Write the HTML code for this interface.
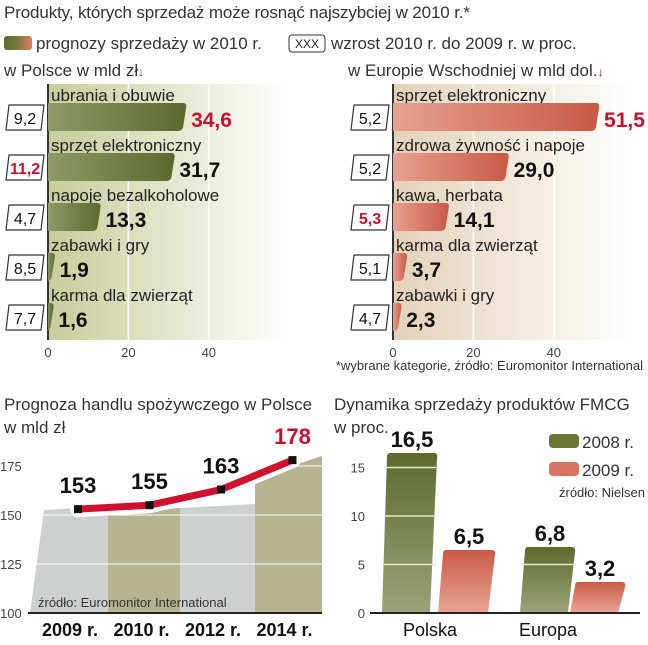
<!DOCTYPE html>
<html><head><meta charset="utf-8"><style>
body{margin:0;background:#fff;font-family:"Liberation Sans",sans-serif}
svg text{font-family:"Liberation Sans",sans-serif}
.t{font-size:17px;fill:#333}
.b{font-weight:bold;font-family:"Liberation Sans Narrow","Liberation Sans",sans-serif}
</style></head><body>
<svg id="s" width="648" height="640" viewBox="0 0 648 640">
<defs>
<linearGradient id="gbg" x1="0" x2="1"><stop offset="0" stop-color="#c9cc9a"/><stop offset="1" stop-color="#fff"/></linearGradient>
<linearGradient id="rbg" x1="0" x2="1"><stop offset="0" stop-color="#e3d2b8"/><stop offset="1" stop-color="#fff"/></linearGradient>
<linearGradient id="gb" x1="0" x2="1"><stop offset="0" stop-color="#8f9a68"/><stop offset="1" stop-color="#5a6a2c"/></linearGradient>
<linearGradient id="rb" x1="0" x2="1"><stop offset="0" stop-color="#e8a090"/><stop offset="1" stop-color="#c85a45"/></linearGradient>
<linearGradient id="gv" x1="0" y1="0" x2="0" y2="1"><stop offset="0" stop-color="#5c6b2c"/><stop offset="1" stop-color="#9aa37a"/></linearGradient>
<linearGradient id="rv" x1="0" y1="0" x2="0" y2="1"><stop offset="0" stop-color="#c95a45"/><stop offset="1" stop-color="#eaa595"/></linearGradient>
<linearGradient id="leg" x1="0" x2="1"><stop offset="0" stop-color="#5c6b2c"/><stop offset="0.5" stop-color="#7a7a40"/><stop offset="1" stop-color="#e07a66"/></linearGradient>
</defs>
<text x="4" y="18" class="t" textLength="466">Produkty, których sprzedaż może rosnąć najszybciej w 2010 r.*</text>
<rect x="4" y="36" width="28" height="14" rx="3" fill="url(#leg)"/>
<text x="36" y="49" class="t">prognozy sprzedaży w 2010 r.</text>
<rect x="289" y="35" width="36" height="17" rx="3" fill="#fff" stroke="#333"/>
<text x="307" y="48" font-size="12" text-anchor="middle" fill="#222">XXX</text>
<text x="331" y="49" class="t">wzrost 2010 r. do 2009 r. w proc.</text>
<text x="4" y="76" class="t">w Polsce w mld zł<tspan fill="#c8102e" font-size="12">↓</tspan></text>
<text x="348" y="76" class="t">w Europie Wschodniej w mld dol.<tspan fill="#c8102e" font-size="12">↓</tspan></text>
<g id="top"></g>
<text x="643" y="370" font-size="13" fill="#333" text-anchor="end">*wybrane kategorie, źródło: Euromonitor International</text>
<text x="4" y="410" class="t">Prognoza handlu spożywczego w Polsce</text>
<text x="4" y="433" class="t">w mld zł</text>
<g id="line"></g>
<text x="334" y="410" class="t">Dynamika sprzedaży produktów FMCG</text>
<text x="334" y="433" class="t">w proc.</text>
<g id="fmcg"></g>
</svg>
<script>
const NS="http://www.w3.org/2000/svg";
function mk(p,tag,a,txt){const e=document.createElementNS(NS,tag);for(const k in a)e.setAttribute(k,a[k]);if(txt!=null)e.textContent=txt;p.appendChild(e);return e;}

const plCats=["ubrania i obuwie","sprzęt elektroniczny","napoje bezalkoholowe","zabawki i gry","karma dla zwierząt"];
const plValues=[34.6,31.7,13.3,1.9,1.6];
const plGrowth=["9,2","11,2","4,7","8,5","7,7"];
const plHighlight=[1];
const euCats=["sprzęt elektroniczny","zdrowa żywność i napoje","kawa, herbata","karma dla zwierząt","zabawki i gry"];
const euValues=[51.5,29.0,14.1,3.7,2.3];
const euGrowth=["5,2","5,2","5,3","5,1","4,7"];
const euHighlight=[2];
const xTicks=[0,20,40];

function panel(name,x0,bg,bar,cats,vals,gr,hl,boxX){
  const g=document.getElementById("top");
  const sx=v=>x0+v*4.02;
  const r=mk(g,"rect",{x:x0,y:84,width:240,height:256,fill:"url(#"+bg+")"});
  
  
  xTicks.forEach(t=>{
    if(t>0){const l=mk(g,"line",{x1:sx(t),x2:sx(t),y1:84,y2:340,stroke:"#fff","stroke-width":1.5});
    
    }
    const tx=mk(g,"text",{x:sx(t),y:357,"font-size":13,fill:"#444","text-anchor":"middle"},String(t));
    
    
  });
  const ax=mk(g,"line",{x1:x0,x2:x0,y1:84,y2:340,stroke:"#333","stroke-width":2});
  
  
  cats.forEach((c,i)=>{
    const y=103+i*50;
    const ct=mk(g,"text",{x:x0+3,y:y-2,"font-size":17,fill:"#222"},c);
    
    
    const w=sx(vals[i])-x0;
    const b=mk(g,"path",{d:`M${x0},${y} H${x0+w-4} Q${x0+w},${y} ${x0+w-1},${y+5} L${x0+w-4},${y+24} Q${x0+w-5},${y+28} ${x0+w-9},${y+28} H${x0} Z`,fill:"url(#"+bar+")"});
    
    
    const vt=mk(g,"text",{x:x0+w+4,y:y+24,"font-size":21,"font-weight":"bold",fill:i===0?"#c8102e":"#111",class:"b"},vals[i].toFixed(1).replace(".",","));
    
    
    const bx=mk(g,"path",{d:`M${boxX+4},${y+2} H${boxX+39} L${boxX+36},${y+27} H${boxX+1} Z`,fill:"#fff",stroke:"#333","stroke-width":1.2,"stroke-linejoin":"round"});
    
    
    const gt=mk(g,"text",{x:boxX+20,y:y+21,"font-size":16,"text-anchor":"middle",fill:hl.includes(i)?"#c8102e":"#111","font-weight":hl.includes(i)?"bold":"normal"},gr[i]);
    
    
  });
}
panel("poland",48,"gbg","gb",plCats,plValues,plGrowth,plHighlight,5);
panel("eastern-europe",393,"rbg","rb",euCats,euValues,euGrowth,euHighlight,350);

const years=["2009 r.","2010 r.","2012 r.","2014 r."];
const sales=[153,155,163,178];
const yTicks=[100,125,150,175];
(function(){
  const g=document.getElementById("line");
  const y=v=>613-(v-100)*1.96;
  const xs=i=>78+i*71.5;
  const bandL=[30,108,180,255,322];
  const bandTop=[510,512,508,478];
  const bandC=["#c3c9c6","#a9a67e","#c3c9c6","#a9a67e"];
  years.forEach((yr,i)=>{
    const r=mk(g,"path",{d:`M${bandL[i]+(i==0?14:0)},${bandTop[i]} L${bandL[i+1]},${bandTop[i]-(i==3?22:4)} L${bandL[i+1]},613 L${bandL[i]},613 Z`,fill:bandC[i],opacity:0.85});
    
    
    const t=mk(g,"text",{x:xs(i)-8,y:636,"font-size":18,"text-anchor":"middle",fill:"#111",class:"b"},yr);
    
    
  });
  yTicks.forEach(v=>{
    if(v>100){const l=mk(g,"line",{x1:30,x2:322,y1:y(v),y2:y(v),stroke:"#fff","stroke-width":1});
    
    }
    const t=mk(g,"text",{x:0,y:y(v)+5,"font-size":13,fill:"#444"},String(v));
    
    
  });
  const ax=mk(g,"line",{x1:28,x2:322,y1:613,y2:613,stroke:"#222","stroke-width":2});
  
  
  const src=mk(g,"text",{x:38,y:607,"font-size":13,fill:"#333"},"źródło: Euromonitor International");
  
  
  const pts=sales.map((v,i)=>xs(i)+","+y(v)).join(" ");
  const halo=mk(g,"polyline",{points:pts,fill:"none",stroke:"#fff","stroke-width":16,"stroke-linejoin":"round","stroke-linecap":"round"});
  
  
  const ln=mk(g,"polyline",{points:pts,fill:"none",stroke:"#d0102e","stroke-width":7,"stroke-linejoin":"round"});
  
  
  sales.forEach((v,i)=>{
    const p=mk(g,"rect",{x:xs(i)-4,y:y(v)-4,width:8,height:8,fill:"#111"});
    
    
    const t=mk(g,"text",{x:xs(i),y:y(v)-16,"font-size":22,"font-weight":"bold","text-anchor":"middle",fill:i===3?"#c8102e":"#111",class:"b"},String(v));
    
    
  });
})();

const regions=["Polska","Europa"];
const s2008=[16.5,6.8];
const s2009=[6.5,3.2];
const fTicks=[0,5,10,15];
(function(){
  const g=document.getElementById("fmcg");
  const y=v=>613-v*9.7;
  fTicks.forEach(v=>{
    const t=mk(g,"text",{x:365,y:y(v)+5,"font-size":13,fill:"#444","text-anchor":"end"},String(v));
    
    
  });
  const gx=[386,524], rx=[442,574];
  function bar(x,w,v,fill,lab){
    const top=y(v);
    const p=mk(g,"path",{d:`M${x+4},${top} H${x+w+4} Q${x+w+8},${top} ${x+w+7},${top+5} L${x+w},613 H${x-4} L${x+1},${top+4} Q${x+1},${top} ${x+4},${top} Z`,fill:fill});
    
    
    return top;
  }
  regions.forEach((r,i)=>{
    const w1=i?44:44, w2=i?44:46;
    const t1=bar(gx[i],w1,s2008[i],"url(#gv)","bar-2008");
    fTicks.forEach(v=>{ if(v>0&&v<s2008[i]){const l=mk(g,"line",{x1:gx[i]-2,x2:gx[i]+w1+6,y1:y(v),y2:y(v),stroke:"#e8e8c8","stroke-width":1.5});
      
      }});
    const v1=mk(g,"text",{x:gx[i]+w1/2+4,y:t1-6,"font-size":22,"font-weight":"bold","text-anchor":"middle",fill:"#111",class:"b"},s2008[i].toFixed(1).replace(".",","));
    
    
    const t2=bar(rx[i],w2,s2009[i],"url(#rv)","bar-2009");
    const v2=mk(g,"text",{x:rx[i]+w2/2+4,y:t2-6,"font-size":22,"font-weight":"bold","text-anchor":"middle",fill:"#111",class:"b"},s2009[i].toFixed(1).replace(".",","));
    
    
    const c=mk(g,"text",{x:[430,548][i],y:636,"font-size":18,"text-anchor":"middle",fill:"#111"},r);
    
    
  });
  const ax=mk(g,"line",{x1:370,x2:640,y1:613,y2:613,stroke:"#222","stroke-width":2});
  
  
  const l1=mk(g,"rect",{x:549,y:434,width:30,height:14,rx:4,fill:"#6a7634"});
  
  
  const lt1=mk(g,"text",{x:582,y:448,"font-size":17,fill:"#333"},"2008 r.");
  
  
  const l2=mk(g,"rect",{x:549,y:462,width:30,height:14,rx:4,fill:"#d97462"});
  
  
  const lt2=mk(g,"text",{x:582,y:476,"font-size":17,fill:"#333"},"2009 r.");
  
  
  const s=mk(g,"text",{x:645,y:497,"font-size":13,fill:"#333","text-anchor":"end"},"źródło: Nielsen");
  
  
})();
</script>
</body></html>
